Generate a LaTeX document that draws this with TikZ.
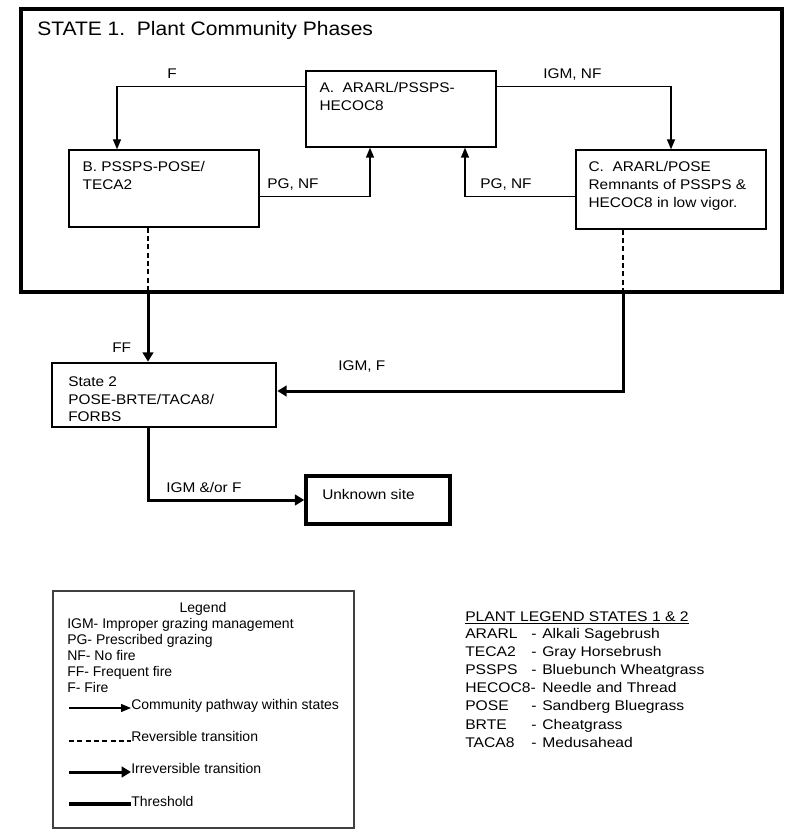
\documentclass[tikz,border=0pt]{standalone}
\usepackage{fontspec}
\setmainfont{Liberation Sans}
\newfontfamily\headsans[FakeStretch=1.08]{Liberation Sans}
\newfontfamily\widesans[FakeStretch=1.1]{Liberation Sans}
\newfontfamily\plantsans[FakeStretch=1.12]{Liberation Sans}
\usetikzlibrary{arrows.meta}
\newcommand\headfont{\headsans\fontsize{14.6pt}{17pt}\selectfont}
\newcommand\phasefont{\widesans\fontsize{10.5pt}{13.5pt}\selectfont}
\newcommand\legfont{\fontsize{10.5pt}{12pt}\selectfont}
\newcommand\plantfont{\plantsans\fontsize{10.5pt}{13.65pt}\selectfont}
\begin{document}
\begin{tikzpicture}[x=0.75pt,y=-0.75pt,
    phase/.style={draw,line width=1pt,minimum width=142.5pt,inner sep=0pt},
    txt/.style={anchor=north west,inner sep=0pt,align=left,font=\phasefont},
    lbl/.style={anchor=base west,inner sep=0pt,font=\phasefont},
    pathway/.style={line width=1pt,-{Triangle[length=7.5pt,width=6pt]}},
    irrev/.style={line width=2.25pt,-{Triangle[length=7pt,width=8pt]}},
    rev/.style={line width=0.8pt,dash pattern=on 3.75pt off 2.5pt},
    thresh/.style={line width=3pt},
    leg/.style={anchor=base west,inner sep=0pt,font=\legfont},
    plant/.style={anchor=base west,inner sep=0pt,font=\plantfont}]
  \useasboundingbox (0,0) rectangle (800,838);
  % state 1 and its phases
  \node[draw,line width=3pt,minimum width=570.75pt,minimum height=212.25pt,inner sep=0pt]
    (s1) at (401.5,150.5) {};
  \node[anchor=base west,inner sep=0pt,font=\headfont] (title) at (37,36)
    {STATE 1.\ \ Plant Community Phases};
  \node[phase,minimum height=57pt] (A) at (401,109) {};
  \node[phase,minimum height=57.75pt] (B) at (164,188.5) {};
  \node[phase,minimum height=59.25pt] (C) at (671,189.5) {};
  \node[txt] (At) at ([shift={(10.5pt,-9pt)}]A.north west) {A.\ \ ARARL/PSSPS-\\HECOC8};
  \node[txt] (Bt) at ([shift={(10.5pt,-9pt)}]B.north west) {B. PSSPS-POSE/\\TECA2};
  \node[txt] (Ct) at ([shift={(9.75pt,-9pt)}]C.north west)
    {C.\ \ ARARL/POSE\\Remnants of PSSPS \&\\HECOC8 in low vigor.};
  \draw[pathway] ([yshift=-12pt]A.north west) -| ([xshift=-35.25pt]B.north);
  \draw[pathway] ([yshift=-12pt]A.north east) -| (C.north);
  \draw[pathway] ([yshift=-35.25pt]B.north east) -| ([xshift=-23.25pt]A.south);
  \draw[pathway] ([yshift=-35.25pt]C.north west) -| ([xshift=48pt]A.south);
  \node[lbl] (lF) at (167,79) {F};
  \node[lbl] (lIN) at (543,79) {IGM, NF};
  \node[lbl] (lPB) at (267,188) {PG, NF};
  \node[lbl] (lPC) at (480,188) {PG, NF};
  % state 2 and unknown site
  \node[draw,line width=2pt,minimum width=168pt,minimum height=48pt,inner sep=0pt]
    (S2) at (164,395) {};
  \begin{scope}
    \clip ([yshift=6.2pt]S2.south west) rectangle (S2.north east);
    \foreach \b/\t [count=\i] in {386.7/State 2, 404.2/{POSE-BRTE/TACA8/}, 421.7/FORBS}
      \node[lbl] (S2t\i) at (68,\b) {\t};
  \end{scope}
  \node[draw,line width=2.6pt,minimum width=108pt,minimum height=36pt,inner sep=0pt]
    (U) at (378,500) {};
  \node[lbl] (Ut) at (322,499) {Unknown site};
  \coordinate (bd) at ([xshift=-12pt]B.south);
  \coordinate (cd) at ([xshift=-36pt]C.south);
  \draw[rev] (bd) -- (bd |- s1.south);
  \draw[irrev] (bd |- s1.south) -- ([xshift=-12pt]S2.north);
  \draw[rev] (cd) -- (cd |- s1.south);
  \draw[irrev] (cd |- s1.south) |- ([yshift=3pt]S2.east);
  \draw[irrev] ([xshift=-12pt]S2.south) |- (U.west);
  \node[lbl] (lFF) at (112,352) {FF};
  \node[lbl] (lIF) at (338,370) {IGM, F};
  \node[lbl] (lIoF) at (166,492) {IGM \&/or F};
  % legend
  \node[draw=black!75,line width=1pt,minimum width=225.75pt,minimum height=177.75pt,
    inner sep=0pt] (leg) at (203.5,709.5) {};
  \node[anchor=base,inner sep=0pt,font=\legfont] (legT) at (203,612) {Legend};
  \foreach \t [count=\i from 0] in {IGM- Improper grazing management,
      PG- Prescribed grazing, NF- No fire, FF- Frequent fire, F- Fire}
    \node[leg] (leg\i) at (67,{628+16*\i}) {\t};
  \foreach \y/\b/\sty/\t [count=\i] in {708/709/pathway/Community pathway within states,
      741/741/rev/Reversible transition, 772/773/irrev/Irreversible transition,
      803.5/806/thresh/Threshold} {
    \coordinate (k\i) at (69,\y);
    \node[leg] (kt\i) at (131,\b) {\t};
    \draw[\sty] (k\i) -- (k\i -| kt\i.west);
  }
  % plant legend
  \node[plant] (plT) at (465,621) {\underline{PLANT LEGEND STATES 1 \& 2}};
  \foreach \code/\dash/\name [count=\i from 0] in {ARARL/-/Alkali Sagebrush,
      TECA2/-/Gray Horsebrush, PSSPS/-/Bluebunch Wheatgrass,
      HECOC8-/{}/Needle and Thread, POSE/-/Sandberg Bluegrass,
      BRTE/-/Cheatgrass, TACA8/-/Medusahead} {
    \node[plant] (pc\i) at (465,{638+18.2*\i}) {\code};
    \node[plant] (pd\i) at (531,{638+18.2*\i}) {\dash};
    \node[plant] (pn\i) at (542,{638+18.2*\i}) {\name};
  }
\end{tikzpicture}
\end{document}
